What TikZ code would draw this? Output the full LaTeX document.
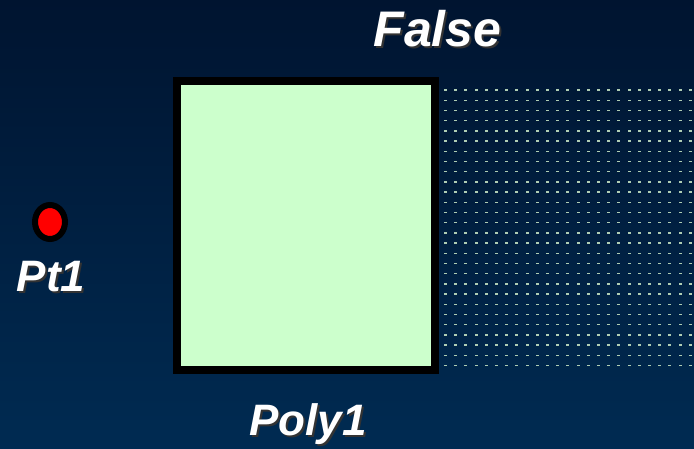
\documentclass[tikz,border=0pt]{standalone}
\usepackage{fontspec}
\setmainfont{Liberation Sans}
\definecolor{bgtop}{RGB}{0,20,48}
\definecolor{bgbot}{RGB}{0,43,82}
\definecolor{polyfill}{RGB}{204,255,204}
\definecolor{dotcol}{RGB}{175,205,180}
\begin{document}
\begin{tikzpicture}[x=1pt,y=-1pt,
  lbl/.style={font=\fontsize{44}{44}\selectfont\bfseries\itshape, text=white, inner sep=0pt, anchor=base},
  shadowlbl/.style={lbl, text=black!80}]
\useasboundingbox (0,0) rectangle (694,449);
\shade[top color=bgtop, bottom color=bgbot] (0,0) rectangle (694,449);
% dotted field
\foreach \r in {0,...,27}{
  \foreach \c in {0,...,24}{
    \fill[dotcol] ({444+\c*10.2},{89.4+\r*10.2}) rectangle ++(3,1.4);
  }
}
% polygon
\node[draw=black, line width=8pt, fill=polyfill, minimum width=258pt, minimum height=289pt, inner sep=0pt] (poly) at (306,225.5) {};
% point
\draw[black, line width=6pt, fill=red] (50,222) ellipse [x radius=15, y radius=17];
\coordinate (pt) at (50,222);
% labels
\node[shadowlbl, font=\fontsize{50}{50}\selectfont\bfseries\itshape] (falseS) at (439.5,49) {False};
\node[lbl, font=\fontsize{50}{50}\selectfont\bfseries\itshape] (false) at (437.5,47) {False};
\node[shadowlbl] (pt1S) at (53,294) {Pt1};
\node[lbl] (pt1) at (51,292) {Pt1};
\node[shadowlbl] (poly1S) at (310,437) {Poly1};
\node[lbl] (poly1) at (308,435) {Poly1};
\end{tikzpicture}
\end{document}
